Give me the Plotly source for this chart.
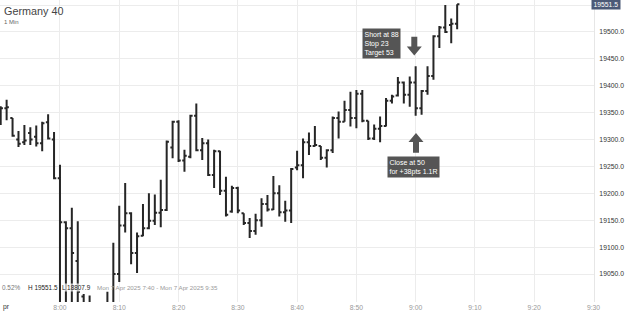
import plotly.graph_objects as go
import pandas as pd

# ---------------- data (1-minute bars, Germany 40, Mon 7 Apr 2025) ----------------
start_time = "2025-04-07 07:50"
opens = [19355, 19358, 19340, 19300, 19295, 19312, 19305, 19293, 19332, 19300,
         19228, 19146, 19135, 19074, 19008, 18990, 18860, 18900, 18960, 18995,
         19050, 19140, 19163, 19089, 19121, 19135, 19149, 19164, 19169, 19285,
         19333, 19261, 19268, 19344, 19280, 19293, 19234, 19278, 19205, 19166,
         19210, 19163, 19145, 19130, 19150, 19180, 19170, 19200, 19165, 19168,
         19248, 19252, 19295, 19288, 19288, 19266, 19280, 19340, 19333, 19355,
         19340, 19385, 19335, 19302, 19320, 19325, 19372, 19382, 19406, 19383,
         19406, 19358, 19390, 19418, 19492, 19508, 19513, 19515]
highs = [19362, 19374, 19340, 19316, 19327, 19323, 19326, 19333, 19347, 19314,
         19253, 19148, 19173, 19148, 19013, 19010, 18960, 18985, 19017, 19108,
         19177, 19219, 19165, 19127, 19180, 19200, 19198, 19225, 19298, 19335,
         19336, 19281, 19346, 19367, 19303, 19300, 19281, 19279, 19231, 19214,
         19212, 19163, 19154, 19162, 19191, 19197, 19232, 19215, 19186, 19247,
         19279, 19302, 19313, 19325, 19288, 19282, 19343, 19352, 19372, 19389,
         19392, 19392, 19335, 19328, 19343, 19377, 19383, 19416, 19408, 19417,
         19436, 19392, 19436, 19494, 19511, 19550, 19525, 19551.5]
lows = [19327, 19336, 19305, 19286, 19290, 19290, 19287, 19278, 19300, 19226,
        18900, 18920, 18930, 18950, 18880, 18830, 18807.9, 18870, 18930, 18980,
        19035, 19127, 19068, 19052, 19120, 19133, 19141, 19137, 19167, 19265,
        19258, 19240, 19265, 19278, 19262, 19232, 19210, 19197, 19157, 19164,
        19163, 19141, 19117, 19123, 19138, 19166, 19169, 19157, 19147, 19145,
        19243, 19228, 19271, 19287, 19262, 19248, 19275, 19302, 19333, 19324,
        19321, 19332, 19299, 19299, 19295, 19324, 19367, 19380, 19367, 19361,
        19344, 19346, 19383, 19411, 19470, 19498, 19479, 19505]
closes = [19358, 19360, 19307, 19292, 19298, 19300, 19293, 19330, 19302, 19228,
          19146, 19135, 19089, 19017, 18900, 18860, 18900, 18960, 18990, 19050,
          19140, 19163, 19089, 19120, 19135, 19149, 19164, 19169, 19296, 19333,
          19261, 19270, 19344, 19280, 19293, 19234, 19278, 19205, 19160, 19210,
          19168, 19145, 19130, 19150, 19180, 19170, 19200, 19165, 19168, 19245,
          19252, 19295, 19288, 19290, 19266, 19280, 19340, 19333, 19355, 19340,
          19385, 19335, 19302, 19320, 19325, 19372, 19380, 19406, 19383, 19406,
          19358, 19390, 19418, 19492, 19508, 19500, 19515, 19551.5]
times = pd.date_range(start_time, periods=len(opens), freq="1min")

ytick_vals = [19050, 19100, 19150, 19200, 19250, 19300, 19350, 19400, 19450, 19500, 19550]
ytick_text = ["19050.0", "19100.0", "19150.0", "19200.0", "19250.0", "19300.0",
              "19350.0", "19400.0", "19450.0", "19500.0", ""]
last_price = 19551.5
session_high = "H 19551.5"
session_low = "L 18807.9"
change_text = "0.52%"
range_text = "Mon 7 Apr 2025 7:40 - Mon 7 Apr 2025 9:35"
trade_text = "Short at 88<br>Stop 23<br>Target 53"
close_text = "Close at 50<br>for +38pts 1.1R"

# ---------------- layout geometry ----------------
W, H = 625, 313
ML, MR, MT, MB = 0, 31, 0, 11
PW, PH = W - ML - MR, H - MT - MB
FONT = "Liberation Sans, Arial, sans-serif"


def px(x):
    return x / PW


def py(y):
    return 1 - y / PH


fig = go.Figure()
fig.add_trace(go.Ohlc(
    x=times, open=opens, high=highs, low=lows, close=closes,
    increasing=dict(line=dict(color="#262626", width=2)),
    decreasing=dict(line=dict(color="#262626", width=2)),
    tickwidth=0.38, hoverinfo="skip", showlegend=False,
))

fig.update_layout(
    width=W, height=H,
    margin=dict(l=ML, r=MR, t=MT, b=MB),
    paper_bgcolor="white", plot_bgcolor="white",
    font=dict(family=FONT, size=7, color="#333"),
    showlegend=False,
)
fig.update_xaxes(
    type="date",
    range=["2025-04-07 07:49:53", "2025-04-07 09:30:05"],
    rangeslider=dict(visible=False),
    dtick=600000, tickformat="%-H:%M",
    showgrid=True, gridcolor="#ececec", gridwidth=1,
    zeroline=False, showline=False, ticks="",
    tickfont=dict(size=6.8, color="#9a9a9a", family=FONT),
    ticklabelstandoff=0,
)
fig.update_yaxes(
    side="right", range=[18998, 19559.3],
    tickvals=ytick_vals, ticktext=ytick_text,
    showgrid=True, gridcolor="#ececec", gridwidth=1,
    zeroline=False, showline=True, linecolor="#e6e6e6", linewidth=1,
    ticks="", tickfont=dict(size=6.8, color="#333", family=FONT),
    ticklabelstandoff=3,
)

ann = []
# title
ann.append(dict(text="Germany 40", x=px(2), y=py(3), xref="paper", yref="paper",
                xanchor="left", yanchor="top", showarrow=False,
                font=dict(size=10.8, color="#444", family=FONT)))
ann.append(dict(text="1 Min", x=px(2), y=py(17), xref="paper", yref="paper",
                xanchor="left", yanchor="top", showarrow=False,
                font=dict(size=6, color="#666", family=FONT)))
# last price badge
ann.append(dict(text=f"{last_price:.1f}", x=px(591), y=last_price, xref="paper", yref="y",
                xanchor="left", yanchor="middle", showarrow=False,
                bgcolor="#4b5a77", borderpad=1.5,
                font=dict(size=6.8, color="white", family=FONT)))
# bottom info line
info_y = py(287)
ann.append(dict(text=change_text, x=px(0), y=info_y, xref="paper", yref="paper",
                xanchor="left", yanchor="middle", showarrow=False,
                font=dict(size=6.4, color="#777", family=FONT)))
ann.append(dict(text=session_high, x=px(26), y=info_y, xref="paper", yref="paper",
                xanchor="left", yanchor="middle", showarrow=False,
                font=dict(size=6.4, color="#222", family=FONT)))
ann.append(dict(text=session_low, x=px(61), y=info_y, xref="paper", yref="paper",
                xanchor="left", yanchor="middle", showarrow=False,
                bgcolor="rgba(255,255,255,0.7)", borderpad=0,
                font=dict(size=6.4, color="#222", family=FONT)))
ann.append(dict(text=range_text, x=px(95), y=info_y, xref="paper", yref="paper",
                xanchor="left", yanchor="middle", showarrow=False,
                font=dict(size=6.2, color="#9a9a9a", family=FONT)))
# date fragment at bottom-left
ann.append(dict(text="pr", x=px(1), y=py(307), xref="paper", yref="paper",
                xanchor="left", yanchor="middle", showarrow=False,
                font=dict(size=6.8, color="#333333", family=FONT)))
# trade boxes
ann.append(dict(text=trade_text, x=px(362), y=py(43.5), xref="paper", yref="paper",
                xanchor="left", yanchor="middle", showarrow=False, align="left",
                bgcolor="#555555", borderpad=1.5,
                font=dict(size=7, color="white", family=FONT)))
ann.append(dict(text=close_text, x=px(387), y=py(166.5), xref="paper", yref="paper",
                xanchor="left", yanchor="middle", showarrow=False, align="left",
                bgcolor="#555555", borderpad=1.5,
                font=dict(size=7, color="white", family=FONT)))
fig.update_layout(annotations=ann)


def arrow_path(cx, y_tail, y_tip, head_len, shaft_w, head_w):
    d = 1 if y_tip > y_tail else -1
    y_head = y_tip - d * head_len
    pts = [
        (cx - shaft_w / 2, y_tail), (cx + shaft_w / 2, y_tail),
        (cx + shaft_w / 2, y_head), (cx + head_w / 2, y_head),
        (cx, y_tip), (cx - head_w / 2, y_head),
        (cx - shaft_w / 2, y_head),
    ]
    s = "M " + " L ".join(f"{px(a):.5f},{py(b):.5f}" for a, b in pts) + " Z"
    return s


fig.add_shape(type="path", xref="paper", yref="paper",
              path=arrow_path(414.3, 36.7, 55.5, 9, 6, 15),
              fillcolor="#555555", line=dict(width=0))
fig.add_shape(type="path", xref="paper", yref="paper",
              path=arrow_path(416, 152.7, 133, 9, 6, 15),
              fillcolor="#555555", line=dict(width=0))

fig.write_html("out.html")
